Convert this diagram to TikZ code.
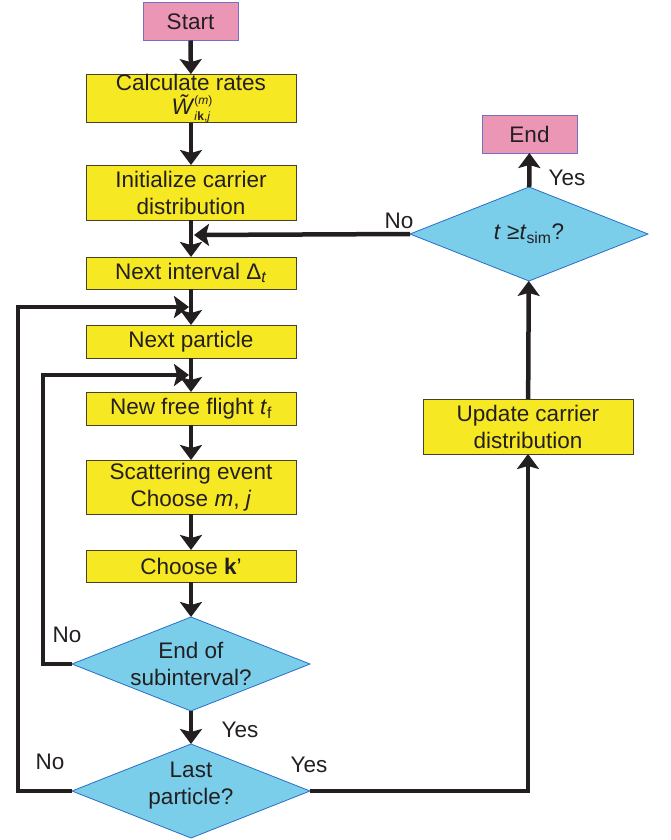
\documentclass[tikz,border=0pt]{standalone}
\usepackage{fontspec}
\setmainfont{Liberation Sans}
\usetikzlibrary{arrows.meta,positioning,calc,shapes.geometric}
\definecolor{boxyel}{RGB}{246,232,34}
\definecolor{termpink}{RGB}{236,150,182}
\definecolor{termedge}{RGB}{120,110,200}
\definecolor{decblue}{RGB}{122,206,234}
\definecolor{decedge}{RGB}{40,110,200}
\definecolor{boxedge}{RGB}{70,65,40}
\definecolor{ink}{RGB}{35,31,32}
\newcommand{\idx}[1]{{\fontsize{12}{12}\selectfont #1}}
\tikzset{
  txt/.style={font=\fontsize{22.5}{27}\selectfont, text=ink},
  term/.style={txt, draw=termedge, fill=termpink, line width=0.8pt, outer sep=0pt,
               minimum width=95pt, minimum height=38pt, inner sep=0pt},
  proc/.style={txt, draw=boxedge, fill=boxyel, line width=1pt, outer sep=0pt,
               minimum width=210pt, inner sep=0pt, align=center},
  dec/.style={diamond, draw=decedge, fill=decblue, line width=0.8pt, outer sep=0pt,
              minimum width=238pt, minimum height=94pt, inner sep=0pt},
  dtxt/.style={txt, align=center},
  flow/.style={-{Stealth[length=15pt, width=22pt, inset=3pt]}, ink, line width=4.5pt},
  lnk/.style={ink, line width=4.5pt},
  ans/.style={txt},
}
\begin{document}
\begin{tikzpicture}[x=1pt, y=-1pt]
  \useasboundingbox (0,0) rectangle (670,840);
  % left column
  \node[term] (start) at (190.5,21.5) {Start};
  \node[proc, minimum height=48pt] (calc) at (191,98.5)
       {Calculate rates\\[-3pt]\textit{\~W}\kern1.5pt\rlap{\raisebox{10pt}{\idx{(\textit{m})}}}\raisebox{-6pt}{\idx{\textit{i}\textbf{k},\textit{j}}}};
  \node[proc, minimum height=55pt] (init) at (191,192.5) {Initialize carrier\\distribution};
  \node[proc, minimum height=32pt] (intv) at (191,273) {Next interval Δ\textsubscript{\textit{t}}};
  \node[proc, minimum height=33pt] (part) at (191,341.5) {Next particle};
  \node[proc, minimum height=33pt] (flight) at (191,408.5) {New free flight \textit{t}\textsubscript{f}};
  \node[proc, minimum height=54pt] (scat) at (191,487) {Scattering event\\Choose \textit{m}, \textit{j}};
  \node[proc, minimum height=32pt] (kpr) at (191,566) {Choose \textbf{k}’};
  \node[dec, label={[dtxt]center:End of\\subinterval?}] (sub) at (191,664) {};
  \node[dec, label={[dtxt, yshift=5pt]center:Last\\particle?}] (last) at (191,791) {};
  % right column
  \node[proc, minimum height=55pt] (upd) at (528,426.5) {Update carrier\\distribution};
  \node[dec, label={[dtxt]center:\textit{t} ≥\textit{t}\textsubscript{sim}?}] (tsim) at (529,234) {};
  \node[term] (end) at (529.5,134) {End};
  % junctions on the main line
  \coordinate (j0) at (191,235);
  \coordinate (j1) at ($(intv.south)!0.5!(part.north)$);
  \coordinate (j2) at ($(part.south)!0.5!(flight.north)$);
  % main flow
  \draw[flow] (start) -- (calc);
  \draw[flow] (calc) -- (init);
  \draw[flow] (init) -- (intv);
  \draw[flow] (intv) -- (part);
  \draw[flow] (part) -- (flight);
  \draw[flow] (flight) -- (scat);
  \draw[flow] (scat) -- (kpr);
  \draw[flow] (kpr) -- (sub);
  \draw[flow] (sub) -- (last);
  % loops back
  \draw[flow, line join=miter] (sub.west) -- ++(-29,0) |- ([xshift=-2pt]j2);
  \draw[flow, line join=miter] (last.west) -- ++(-54,0) |- ([xshift=-2pt]j1);
  \draw[lnk, line join=miter] (last.east) -| ($(upd.south)+(0,2)$);
  \draw[flow] ($(last.east -| upd.south)+(0,-2)$) -- (upd.south);
  \draw[flow] (upd) -- (tsim);
  \draw[flow] (tsim) -- (end);
  \draw[flow] (tsim.west) -- ([xshift=3pt]j0);
  % answers
  \node[ans] (nsub) at (67,635) {No};
  \node[ans] (ysub) at (240,730) {Yes};
  \node[ans] (nlast) at (50,762) {No};
  \node[ans] (ylast) at (309,765) {Yes};
  \node[ans] (ntsim) at (399,221) {No};
  \node[ans] (ytsim) at (567,178) {Yes};
\end{tikzpicture}
\end{document}
